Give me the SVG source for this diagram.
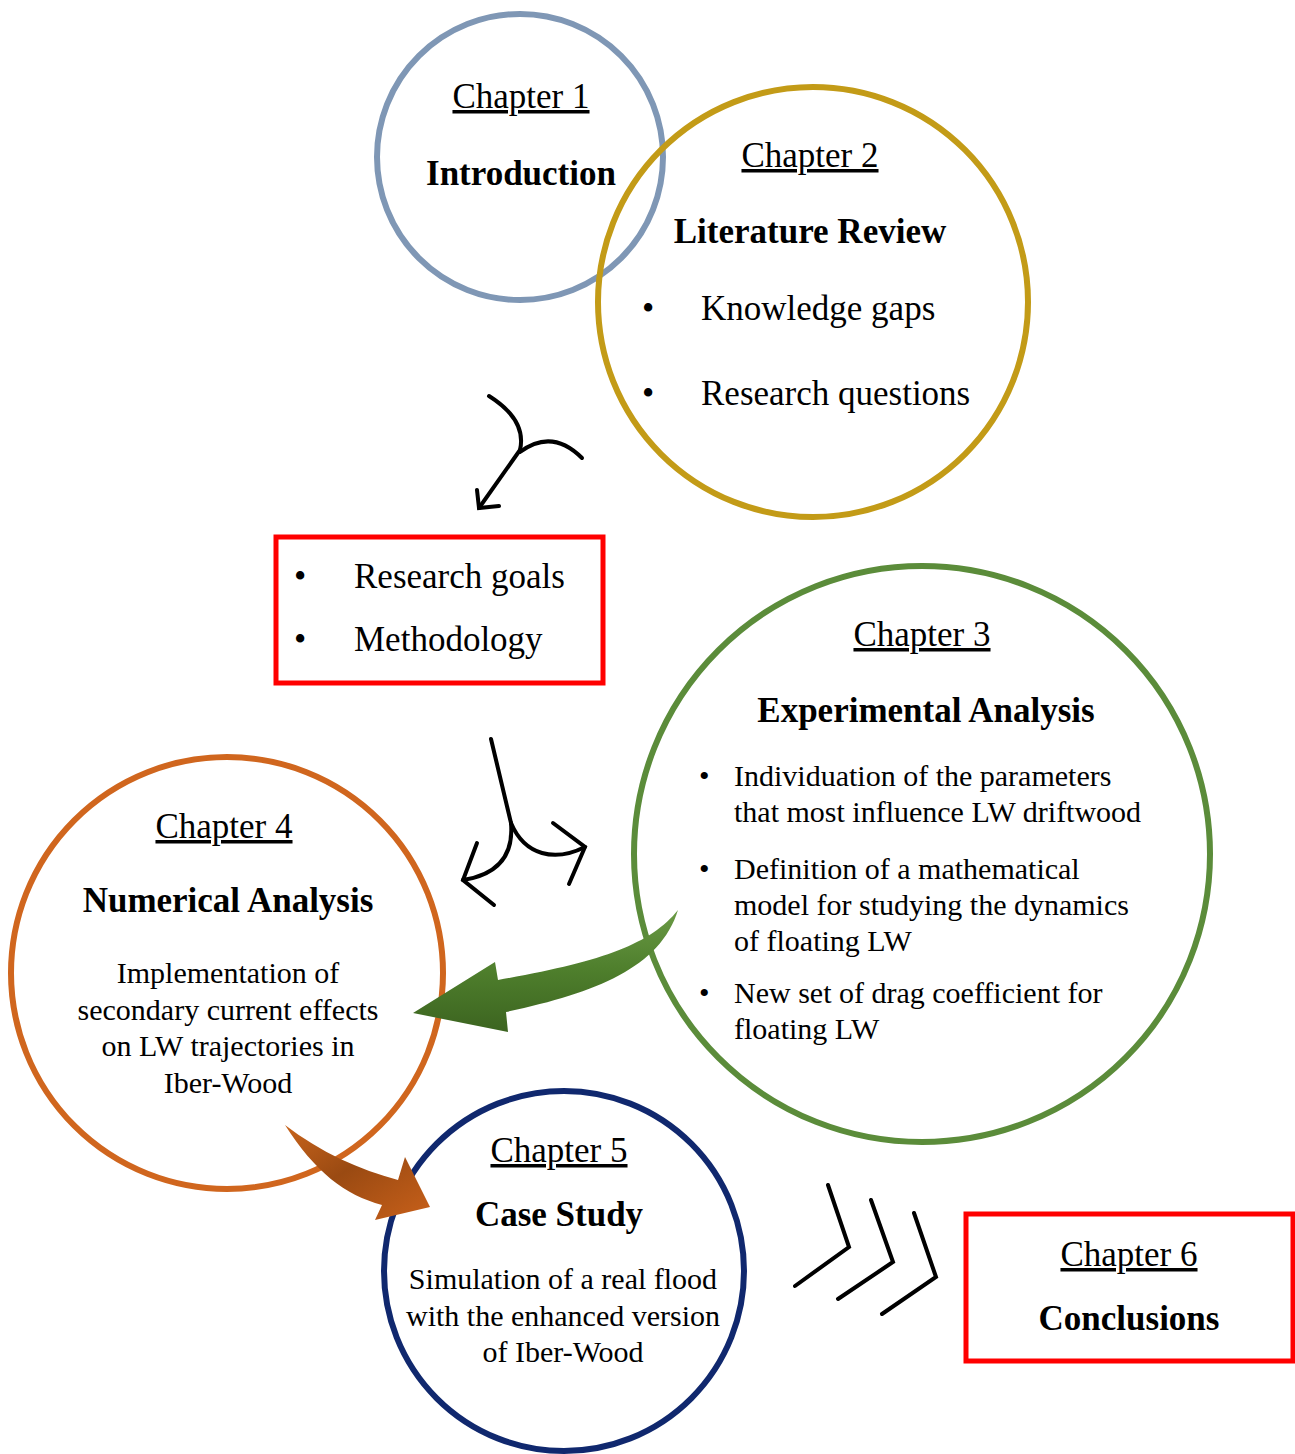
<svg xmlns="http://www.w3.org/2000/svg" width="1295" height="1454" viewBox="0 0 1295 1454">
<style>
text{font-family:"Liberation Serif","Times New Roman",serif;fill:#000}
.ch{font-size:35px;text-decoration:underline;text-anchor:middle}
.tt{font-size:35px;font-weight:bold;text-anchor:middle}
.b35{font-size:35px}
.b28{font-size:30px}
.c30{font-size:30px;text-anchor:middle}
.ring{fill:none;stroke-width:6}
.box{fill:none;stroke:#FF0000;stroke-width:5}
.ln{fill:none;stroke:#000;stroke-width:4;stroke-linecap:round;stroke-linejoin:miter}
</style>
<defs>
<linearGradient id="gG" x1="0" y1="0" x2="0" y2="1">
<stop offset="0" stop-color="#6A9A45"/><stop offset="0.5" stop-color="#4E7E2C"/><stop offset="1" stop-color="#3C6420"/>
</linearGradient>
<linearGradient id="gO" x1="0" y1="0" x2="1" y2="1">
<stop offset="0" stop-color="#C8641C"/><stop offset="0.45" stop-color="#9A4A12"/><stop offset="1" stop-color="#C8601A"/>
</linearGradient>
</defs>

<g id="chapter1">
<circle class="ring" cx="520" cy="157" r="143" stroke="#7F97B5"/>
<text class="ch" x="521" y="108">Chapter 1</text>
<text class="tt" x="521" y="185">Introduction</text>
</g>

<g id="chapter2">
<circle class="ring" cx="813" cy="302" r="215" stroke="#C39B17"/>
<text class="ch" x="810" y="167">Chapter 2</text>
<text class="tt" x="810" y="243">Literature Review</text>
<text class="b35" x="642" y="320">•</text>
<text class="b35" x="701" y="320">Knowledge gaps</text>
<text class="b35" x="642" y="405">•</text>
<text class="b35" x="701" y="405">Research questions</text>
</g>

<g id="goals">
<rect class="box" x="276" y="537" width="327" height="146"/>
<text class="b35" x="294" y="588">•</text>
<text class="b35" x="354" y="588">Research goals</text>
<text class="b35" x="294" y="651">•</text>
<text class="b35" x="354" y="651">Methodology</text>
</g>

<g id="chapter3">
<circle class="ring" cx="922" cy="854" r="288" stroke="#5B8C3A"/>
<text class="ch" x="922" y="646">Chapter 3</text>
<text class="tt" x="926" y="722">Experimental Analysis</text>
<text class="b28" x="699" y="786">•</text>
<text class="b28" x="734" y="786">Individuation of the parameters</text>
<text class="b28" x="734" y="822">that most influence LW driftwood</text>
<text class="b28" x="699" y="879">•</text>
<text class="b28" x="734" y="879">Definition of a mathematical</text>
<text class="b28" x="734" y="915">model for studying the dynamics</text>
<text class="b28" x="734" y="951">of floating LW</text>
<text class="b28" x="699" y="1003">•</text>
<text class="b28" x="734" y="1003">New set of drag coefficient for</text>
<text class="b28" x="734" y="1039">floating LW</text>
</g>

<g id="chapter4">
<circle class="ring" cx="227" cy="973" r="216" stroke="#D0661E"/>
<text class="ch" x="224" y="838">Chapter 4</text>
<text class="tt" x="228" y="912">Numerical Analysis</text>
<text class="c30" x="228" y="983">Implementation of</text>
<text class="c30" x="228" y="1020">secondary current effects</text>
<text class="c30" x="228" y="1056">on LW trajectories in</text>
<text class="c30" x="228" y="1093">Iber-Wood</text>
</g>

<g id="chapter5">
<circle class="ring" cx="564" cy="1271" r="180" stroke="#10286E"/>
<text class="ch" x="559" y="1162">Chapter 5</text>
<text class="tt" x="559" y="1226">Case Study</text>
<text class="c30" x="563" y="1289">Simulation of a real flood</text>
<text class="c30" x="563" y="1326">with the enhanced version</text>
<text class="c30" x="563" y="1362">of Iber-Wood</text>
</g>

<g id="chapter6">
<rect class="box" x="966" y="1214" width="327" height="147"/>
<text class="ch" x="1129" y="1266">Chapter 6</text>
<text class="tt" x="1129" y="1330">Conclusions</text>
</g>

<g id="connectors">
<path class="ln" d="M489,396 Q527,420 520,450"/>
<path class="ln" d="M582,458 Q552,428 520,452"/>
<path class="ln" d="M520,450 L479,508"/>
<path class="ln" d="M477,490 L479,508 L499,506"/>

<path class="ln" d="M491,739 L511,823"/>
<path class="ln" d="M511,823 C514,858 495,875 463,880"/>
<path class="ln" d="M477,843 L463,880 L494,905"/>
<path class="ln" d="M511,823 C525,856 555,862 585,847"/>
<path class="ln" d="M553,823 L585,847 L569,884"/>

<path d="M678,910 C650,945 600,962 498,980 L495,962 L413,1013 L508,1032 L506,1012 C595,993 660,968 678,910 Z" fill="url(#gG)"/>
<path d="M285,1125 C320,1152 360,1170 398,1180 L405,1157 L430,1207 L375,1220 L382,1205 C345,1195 315,1172 285,1125 Z" fill="url(#gO)"/>

<path class="ln" d="M828,1185 L849,1247 L795,1286"/>
<path class="ln" d="M871,1200 L893,1262 L838,1299"/>
<path class="ln" d="M914,1213 L936,1277 L882,1314"/>
</g>
</svg>
